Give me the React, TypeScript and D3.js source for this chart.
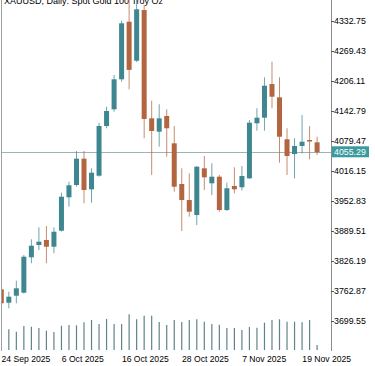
import * as d3 from "d3";
import { useEffect, useRef } from "react";

const width = 375;
const height = 366;
const plot = { left: 1, right: 331, top: 0, bottom: 350 };

const dates = [
  "2025-09-24", "2025-09-25", "2025-09-26", "2025-09-29", "2025-09-30",
  "2025-10-01", "2025-10-02", "2025-10-03", "2025-10-06", "2025-10-07",
  "2025-10-08", "2025-10-09", "2025-10-10", "2025-10-13", "2025-10-14",
  "2025-10-15", "2025-10-16", "2025-10-17", "2025-10-20", "2025-10-21",
  "2025-10-22", "2025-10-23", "2025-10-24", "2025-10-27", "2025-10-28",
  "2025-10-29", "2025-10-30", "2025-10-31", "2025-11-03", "2025-11-04",
  "2025-11-05", "2025-11-06", "2025-11-07", "2025-11-10", "2025-11-11",
  "2025-11-12", "2025-11-13", "2025-11-14", "2025-11-17", "2025-11-18",
  "2025-11-19", "2025-11-20", "2025-11-21"
];

const opens = [
  3766.4, 3738.1, 3752.9, 3759.2, 3833.9, 3859.8, 3870.3, 3856.2, 3889.9, 3960.4,
  3986.3, 4041.8, 3977.2, 4005.9, 4110.7, 4145.9, 4209.2, 4330.6, 4248.4, 4355.3,
  4126.9, 4098.7, 4131.8, 4074.2, 3988.4, 3954.6, 3923.0, 4021.5, 3989.9, 4003.8,
  3933.6, 3984.2, 3981.5, 4000.4, 4116.4, 4128.2, 4199.2, 4171.2, 4082.7, 4051.7,
  4068.6, 4081.2, 4076.3
];
const highs = [
  3777.5, 3761.3, 3784.5, 3838.7, 3871.8, 3897.1, 3899.9, 3897.1, 3970.1, 3993.3,
  4058.0, 4058.0, 4021.5, 4117.7, 4151.4, 4218.3, 4332.7, 4379.0, 4381.0, 4365.9,
  4164.1, 4156.5, 4145.9, 4110.7, 4021.5, 4011.0, 4026.3, 4047.5, 4032.1, 4007.4,
  3991.2, 4023.7, 4026.3, 4123.4, 4148.1, 4213.4, 4246.3, 4213.4, 4105.9, 4084.8,
  4133.9, 4110.7, 4088.1
];
const lows = [
  3731.2, 3726.3, 3736.9, 3757.5, 3821.2, 3849.2, 3821.2, 3842.3, 3888.2, 3940.6,
  3982.7, 3947.7, 3949.0, 4003.8, 4105.9, 4140.9, 4204.1, 4188.1, 4245.7, 4084.8,
  4007.4, 4067.1, 4046.0, 3972.2, 3889.3, 3919.5, 3902.0, 3975.8, 3965.2, 3930.0,
  3931.5, 3968.8, 3974.7, 3999.0, 4100.9, 4100.9, 4148.1, 4033.3, 4007.4, 4000.4,
  4053.2, 4040.5, 4049.6
];
const closes = [
  3736.9, 3750.8, 3768.5, 3835.1, 3858.3, 3866.8, 3856.2, 3887.8, 3961.6, 3985.7,
  4041.8, 3975.8, 4012.3, 4110.7, 4142.4, 4209.2, 4327.3, 4229.0, 4356.8, 4125.5,
  4100.2, 4126.9, 4105.9, 3982.7, 3954.6, 3930.0, 4024.9, 4002.5, 4003.8, 3933.6,
  3979.4, 3977.2, 4005.3, 4117.7, 4128.2, 4195.7, 4172.5, 4088.1, 4047.5, 4068.6,
  4077.6, 4078.5, 4055.29
];
const volumes = [
  220, 207, 183, 240, 233, 220, 193, 180, 243, 250,
  247, 277, 300, 260, 310, 260, 260, 357, 307, 343,
  343, 280, 250, 300, 280, 300, 307, 283, 260, 253,
  220, 220, 200, 230, 223, 273, 300, 307, 283, 283,
  277, 300, 50
];

const priceTicks = [
  4332.75, 4269.43, 4206.11, 4142.79, 4079.47, 4016.15,
  3952.83, 3889.51, 3826.19, 3762.87, 3699.55
];
const dateTicks = ["2025-09-24", "2025-10-06", "2025-10-16", "2025-10-28", "2025-11-07", "2025-11-19"];

const title = "XAUUSD, Daily:  Spot Gold 100 Troy Oz";
const bidPrice = 4055.29;

const bullColor = "#3f8790";
const bearColor = "#b3653f";
const font = "'Liberation Sans', Arial, sans-serif";

export default function App() {
  const svgRef = useRef<SVGSVGElement | null>(null);

  useEffect(() => {
    document.body.style.margin = "0";
    if (!svgRef.current) {
      return;
    }
    const svg = d3.select(svgRef.current);
    svg.selectAll("*").remove();

    const x = d3.scalePoint<string>().domain(dates).range([0.8, 316.6]);
    const y = d3.scaleLinear().domain([3699.55, 4332.75]).range([321, 20.7]);
    const v = d3.scaleLinear().domain([0, 400]).range([plot.bottom, plot.bottom - 40]);
    const parse = d3.timeParse("%Y-%m-%d");
    const fmt = d3.timeFormat("%-d %b %Y");

    const bars = dates.map((date, i) => ({
      date,
      open: opens[i],
      high: highs[i],
      low: lows[i],
      close: closes[i],
      volume: volumes[i]
    }));
    type Bar = (typeof bars)[number];
    const color = (b: Bar) => (b.close >= b.open ? bullColor : bearColor);

    svg.append("rect").attr("width", width).attr("height", height).attr("fill", "#ffffff");

    svg
      .append("defs")
      .append("clipPath")
      .attr("id", "plotClip")
      .append("rect")
      .attr("x", plot.left)
      .attr("y", plot.top)
      .attr("width", plot.right - plot.left)
      .attr("height", plot.bottom - plot.top);

    // title, mostly cut off at the top edge
    svg
      .append("text")
      .attr("x", 4)
      .attr("y", 3.5)
      .attr("font-family", font)
      .attr("font-size", 9)
      .attr("fill", "#000")
      .text(title);

    const chart = svg.append("g").attr("clip-path", "url(#plotClip)");

    // volume
    chart
      .append("g")
      .selectAll("line")
      .data(bars)
      .join("line")
      .attr("x1", (b) => (x(b.date) ?? 0) + 0.5)
      .attr("x2", (b) => (x(b.date) ?? 0) + 0.5)
      .attr("y1", plot.bottom)
      .attr("y2", (b) => v(b.volume))
      .attr("stroke", "#62828a")
      .attr("stroke-width", 1.2);

    // bid line
    chart
      .append("line")
      .attr("x1", plot.left)
      .attr("x2", plot.right)
      .attr("y1", Math.round(y(bidPrice)) + 0.5)
      .attr("y2", Math.round(y(bidPrice)) + 0.5)
      .attr("stroke", "#9bb5b5")
      .attr("stroke-width", 1);

    // wicks
    chart
      .append("g")
      .selectAll("line")
      .data(bars)
      .join("line")
      .attr("x1", (b) => (x(b.date) ?? 0) + 0.5)
      .attr("x2", (b) => (x(b.date) ?? 0) + 0.5)
      .attr("y1", (b) => y(b.high))
      .attr("y2", (b) => y(b.low))
      .attr("stroke", color)
      .attr("stroke-opacity", 0.75)
      .attr("stroke-width", 1);

    // bodies
    chart
      .append("g")
      .selectAll("rect")
      .data(bars)
      .join("rect")
      .attr("x", (b) => (x(b.date) ?? 0) - 2)
      .attr("width", 5)
      .attr("y", (b) => y(Math.max(b.open, b.close)))
      .attr("height", (b) => Math.max(1.5, Math.abs(y(b.open) - y(b.close))))
      .attr("fill", color);

    // frame
    svg
      .append("line")
      .attr("x1", 1.5)
      .attr("x2", 1.5)
      .attr("y1", 0)
      .attr("y2", plot.bottom + 1)
      .attr("stroke", "#a0a0a0");
    svg
      .append("line")
      .attr("x1", plot.right + 0.5)
      .attr("x2", plot.right + 0.5)
      .attr("y1", 0)
      .attr("y2", plot.bottom + 1)
      .attr("stroke", "#8c8c8c");

    // price axis
    const axis = svg.append("g");
    axis
      .selectAll("line")
      .data(priceTicks)
      .join("line")
      .attr("x1", plot.right)
      .attr("x2", plot.right + 3)
      .attr("y1", (t) => Math.round(y(t)) + 0.5)
      .attr("y2", (t) => Math.round(y(t)) + 0.5)
      .attr("stroke", "#555");
    axis
      .selectAll("text")
      .data(priceTicks)
      .join("text")
      .attr("x", plot.right + 3)
      .attr("y", (t) => y(t) + 3.2)
      .attr("font-family", font)
      .attr("font-size", 8.8)
      .attr("fill", "#000")
      .text((t) => t.toFixed(2));

    // bid label
    const by = y(bidPrice);
    svg
      .append("rect")
      .attr("x", plot.right + 1)
      .attr("y", by - 6)
      .attr("width", 37)
      .attr("height", 11)
      .attr("fill", "#3a9a9e");
    svg
      .append("text")
      .attr("x", plot.right + 3)
      .attr("y", by + 3.2)
      .attr("font-family", font)
      .attr("font-size", 8.8)
      .attr("fill", "#ffffff")
      .text(bidPrice.toFixed(2));

    // time axis
    svg
      .append("g")
      .selectAll("text")
      .data(dateTicks)
      .join("text")
      .attr("x", (d) => (x(d) ?? 0) + 0.8)
      .attr("y", 361.5)
      .attr("font-family", font)
      .attr("font-size", 8.6)
      .attr("fill", "#000")
      .text((d) => fmt(parse(d) as Date));
  }, []);

  return (
    <svg
      ref={svgRef}
      width={width}
      height={height}
      viewBox={`0 0 ${width} ${height}`}
      style={{ position: "absolute", left: 0, top: 0, display: "block" }}
    />
  );
}
